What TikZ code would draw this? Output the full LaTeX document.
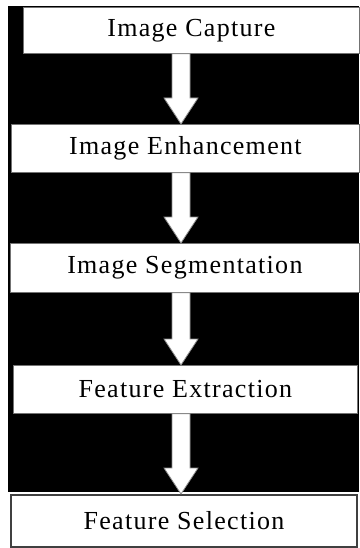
\documentclass[tikz,border=0pt]{standalone}
\usepackage{fontspec}
\setmainfont{Liberation Serif}
\usetikzlibrary{calc}

\begin{document}
\begin{tikzpicture}[x=1pt,y=-1pt,
	stage/.style={draw=black!55,line width=0.8pt,fill=white,anchor=north west,inner sep=0pt,
		font=\fontsize{26}{30}\selectfont\addfontfeature{LetterSpace=5}},
	flow/.style={draw=black!45,line width=0.8pt,fill=white}]
		\useasboundingbox (0,0) rectangle (359,548);
		\fill[black] (8,6) rectangle (359,492);
		\node[stage,minimum width=336pt,minimum height=46pt] (cap) at (23,7) {Image Capture};
		\node[stage,minimum width=348pt,minimum height=48pt] (enh) at (11,124) {Image Enhancement};
		\node[stage,minimum width=349pt,minimum height=49pt] (seg) at (10,243) {Image Segmentation};
		\node[stage,minimum width=344pt,minimum height=48pt] (ext) at (13,365) {Feature Extraction};
		\node[stage,draw=black!75,line width=2pt,minimum width=346pt,minimum height=52pt] (sel) at (10,494) {Feature Selection};
		\coordinate (ax) at (181,0);
		% block arrows between the stages
		\foreach \a/\b in {cap/enh,enh/seg,seg/ext,ext/sel}
			\path[flow] let \p1=(\a.south -| ax), \p2=(\b.north -| ax) in
				(\x1-9pt,\y1) -- (\x1-9pt,\y2+26pt) -- (\x1-17pt,\y2+26pt) -- (\x2,\y2)
				-- (\x1+17pt,\y2+26pt) -- (\x1+9pt,\y2+26pt) -- (\x1+9pt,\y1) -- cycle;
	\end{tikzpicture}
\end{document}
